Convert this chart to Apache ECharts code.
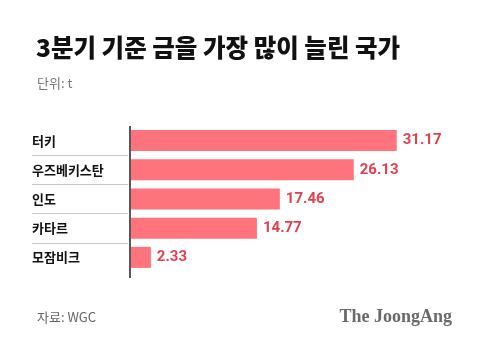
<!DOCTYPE html>
<html><head><meta charset="utf-8">
<script src="https://cdn.jsdelivr.net/npm/echarts@6/dist/echarts.min.js"></script>
<style>html,body{margin:0;padding:0;background:#fff}#c{width:480px;height:344px}</style>
</head><body><div id="c"></div>
<script>
const categories = ['터키', '우즈베키스탄', '인도', '카타르', '모잠비크'];
const values = [31.17, 26.13, 17.46, 14.77, 2.33];
const titleText = '3분기 기준 금을 가장 많이 늘린 국가';
const unitText = '단위: t';
const sourceText = '자료: WGC';
const brandText = 'The JoongAng';

const chart = echarts.init(document.getElementById('c'), null, {renderer: 'canvas'});
const KR = '"Noto Sans CJK KR", "Noto Sans", sans-serif';
chart.setOption({
  animation: false,
  backgroundColor: '#fff',
  title: [
    {text: titleText, left: 31, top: 30, textStyle: {fontFamily: KR, fontSize: 24.5, fontWeight: 900, color: '#111'}},
    {text: unitText, left: 32, top: 72, textStyle: {fontFamily: KR, fontSize: 13, fontWeight: 'normal', color: '#777'}},
    {text: sourceText, left: 32, top: 306, textStyle: {fontFamily: KR, fontSize: 13, fontWeight: 'normal', color: '#666'}},
    {text: brandText, right: 23, top: 303, textStyle: {fontFamily: '"Liberation Serif", serif', fontSize: 18, fontWeight: 'bold', color: '#6a6a6a'}}
  ],
  grid: [
    {left: 131, right: 8, top: 126, height: 146},
    {left: 32, width: 96, top: 126, height: 146}
  ],
  xAxis: [
    {gridIndex: 0, type: 'value', min: 0, max: 40, show: false},
    {gridIndex: 1, type: 'value', min: 0, max: 1, show: false}
  ],
  yAxis: [
    {gridIndex: 0, type: 'category', data: categories, inverse: true,
     axisLine: {show: false}, axisTick: {show: false},
     axisLabel: {show: true, align: 'left', margin: 99, fontFamily: KR, fontSize: 13, fontWeight: 'bold', color: '#111'}},
    {gridIndex: 1, type: 'category', data: categories, inverse: true,
     axisLine: {show: false}, axisTick: {show: false}, axisLabel: {show: false},
     splitLine: {show: true, showMinLine: false, showMaxLine: false, lineStyle: {color: '#c8c8c8', width: 1}}}
  ],
  graphic: [
    {type: 'line', shape: {x1: 130, y1: 126, x2: 130, y2: 278}, style: {stroke: '#222', lineWidth: 1.5}, z: 100}
  ],
  series: [{
    type: 'bar', xAxisIndex: 0, yAxisIndex: 0, data: values, barWidth: 21,
    itemStyle: {color: '#ff737c'},
    label: {show: true, position: 'right', distance: 6, fontFamily: 'Roboto, "Noto Sans", sans-serif', fontSize: 15, fontWeight: 'bold', color: '#e2404e',
      formatter: p => p.value.toFixed(2)}
  }]
});
</script></body></html>
